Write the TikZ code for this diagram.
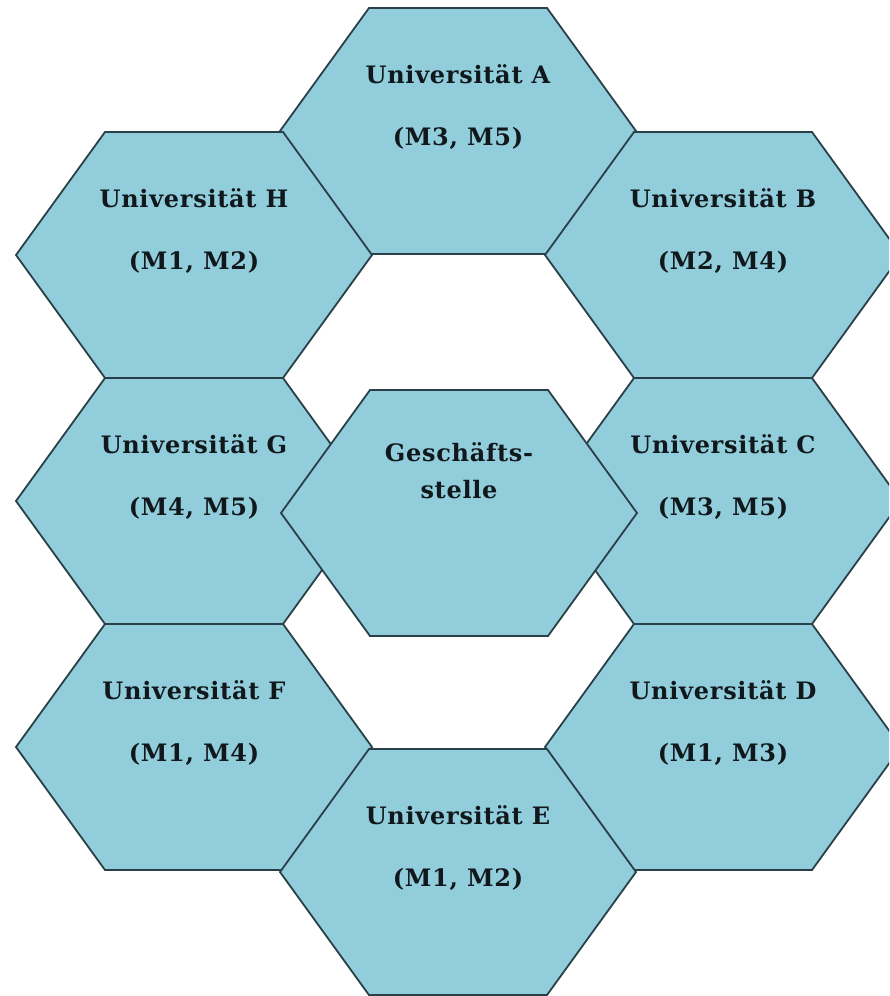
\documentclass[tikz,border=0pt]{standalone}
\usepackage{fontspec}
\setmainfont{DejaVu Serif}
\newfontfamily\cellfont[LetterSpace=3]{DejaVu Serif}
\definecolor{cellfill}{HTML}{92CDDC}
\definecolor{celledge}{HTML}{2A4048}
\definecolor{celltext}{HTML}{10181C}
\tikzset{
  cellshape/.style={fill=cellfill, draw=celledge, line width=1.8pt, line join=miter},
  celllabel/.style={anchor=base, inner sep=0pt, text=celltext,
    font=\cellfont\bfseries\fontsize{24}{28}\selectfont},
}
% one flat-topped hexagon centred at (#2,#3), named #1
\newcommand\honeycell[3]{%
  \coordinate (#1) at (#2,#3);
  \begin{scope}[shift={(#2,#3)}]
    \draw[cellshape] (-178,0) -- (-89,-123) -- (89,-123) -- (178,0)
      -- (89,123) -- (-89,123) -- cycle;
  \end{scope}}
% a cell with the university name and its modules
\newcommand\unicell[4]{%
  \honeycell{#1}{#2}{#3}
  \node[celllabel] (#1-name) at ($(#1)+(0,-48)$) {#4};}
\newcommand\modlabel[2]{%
  \node[celllabel] (#1-mods) at ($(#1)+(0,14)$) {#2};}
\usetikzlibrary{calc}
\begin{document}
\begin{tikzpicture}[x=1pt, y=-1pt]
  \useasboundingbox (0,0) rectangle (889,996);
  \begin{scope}
    \clip (0,0) rectangle (889,996);
    \unicell{uniA}{458}{131}{Universität A}  \modlabel{uniA}{(M3, M5)}
    \unicell{uniH}{194}{255}{Universität H}  \modlabel{uniH}{(M1, M2)}
    \unicell{uniB}{723}{255}{Universität B}  \modlabel{uniB}{(M2, M4)}
    \unicell{uniG}{194}{501}{Universität G}  \modlabel{uniG}{(M4, M5)}
    \unicell{uniC}{723}{501}{Universität C}  \modlabel{uniC}{(M3, M5)}
    \unicell{uniF}{194}{747}{Universität F}  \modlabel{uniF}{(M1, M4)}
    \unicell{uniD}{723}{747}{Universität D}  \modlabel{uniD}{(M1, M3)}
    \unicell{uniE}{458}{872}{Universität E}  \modlabel{uniE}{(M1, M2)}
    % central office, drawn last so it lies over G and C
    \honeycell{office}{459}{513}
    \node[celllabel] (office-l1) at ($(office)+(0,-52)$) {Geschäfts-};
    \node[celllabel] (office-l2) at ($(office)+(0,-15)$) {stelle};
  \end{scope}
\end{tikzpicture}
\end{document}
